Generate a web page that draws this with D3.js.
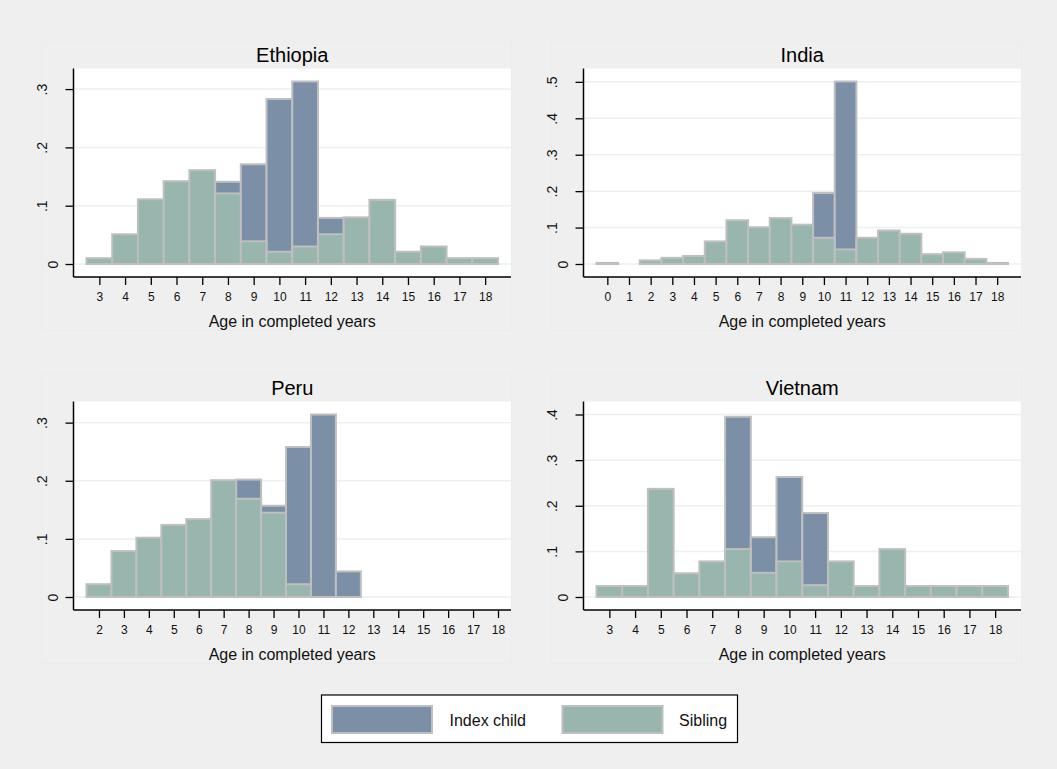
<!DOCTYPE html>
<html>
<head>
<meta charset="utf-8">
<script src="https://cdn.jsdelivr.net/npm/d3@7"></script>
<style>
  body { margin: 0; background: #efefef; }
  svg { display: block; }
</style>
</head>
<body>
<script>
// Share of children by age (density), index child vs sibling
const ethiopiaAges    = [3, 4, 5, 6, 7, 8, 9, 10, 11, 12, 13, 14, 15, 16, 17, 18];
const ethiopiaIndex   = [0, 0, 0, 0, 0, 0.141, 0.171, 0.283, 0.313, 0.079, 0, 0, 0, 0, 0, 0];
const ethiopiaSibling = [0.010, 0.051, 0.111, 0.142, 0.161, 0.121, 0.039, 0.021, 0.030, 0.051, 0.080, 0.110, 0.021, 0.030, 0.010, 0.010];

const indiaAges    = [0, 1, 2, 3, 4, 5, 6, 7, 8, 9, 10, 11, 12, 13, 14, 15, 16, 17, 18];
const indiaIndex   = [0, 0, 0, 0, 0, 0, 0, 0, 0, 0, 0.195, 0.501, 0, 0, 0, 0, 0, 0, 0];
const indiaSibling = [0.003, 0, 0.010, 0.017, 0.022, 0.062, 0.120, 0.101, 0.126, 0.108, 0.072, 0.040, 0.072, 0.092, 0.083, 0.027, 0.032, 0.014, 0.003];

const peruAges    = [2, 3, 4, 5, 6, 7, 8, 9, 10, 11, 12];
const peruIndex   = [0, 0, 0, 0, 0, 0, 0.202, 0.157, 0.258, 0.314, 0.044];
const peruSibling = [0.022, 0.079, 0.102, 0.124, 0.134, 0.201, 0.169, 0.145, 0.022, 0, 0];

const vietnamAges    = [3, 4, 5, 6, 7, 8, 9, 10, 11, 12, 13, 14, 15, 16, 17, 18];
const vietnamIndex   = [0, 0, 0, 0, 0, 0.395, 0.131, 0.263, 0.184, 0, 0, 0, 0, 0, 0, 0];
const vietnamSibling = [0.024, 0.024, 0.237, 0.052, 0.078, 0.105, 0.053, 0.078, 0.026, 0.078, 0.024, 0.105, 0.024, 0.024, 0.024, 0.024];

const ethiopiaXTicks = d3.range(3, 19);
const indiaXTicks    = d3.range(0, 19);
const peruXTicks     = d3.range(2, 19);
const vietnamXTicks  = d3.range(3, 19);

const ethiopiaYTicks = [0, 0.1, 0.2, 0.3];
const indiaYTicks    = [0, 0.1, 0.2, 0.3, 0.4, 0.5];
const peruYTicks     = [0, 0.1, 0.2, 0.3];
const vietnamYTicks  = [0, 0.1, 0.2, 0.3, 0.4];

const seriesNames = ["Index child", "Sibling"];
const xTitle = "Age in completed years";

const panels = [
    {title: "Ethiopia", ages: ethiopiaAges, index: ethiopiaIndex, sibling: ethiopiaSibling, xTicks: ethiopiaXTicks, yTicks: ethiopiaYTicks, col: 0, row: 0},
    {title: "India", ages: indiaAges, index: indiaIndex, sibling: indiaSibling, xTicks: indiaXTicks, yTicks: indiaYTicks, col: 1, row: 0},
    {title: "Peru", ages: peruAges, index: peruIndex, sibling: peruSibling, xTicks: peruXTicks, yTicks: peruYTicks, col: 0, row: 1},
    {title: "Vietnam", ages: vietnamAges, index: vietnamIndex, sibling: vietnamSibling, xTicks: vietnamXTicks, yTicks: vietnamYTicks, col: 1, row: 1}
];

const colors = {index: "#7b8fa7", sibling: "#98b5ae", outline: "#bfbfbf", grid: "#e9f1f3", frame: "#e8edee"};
const font = '"Liberation Sans", Arial, Helvetica, sans-serif';

// layout of the 2x2 grid
const sub = {x0: 41, y0: 41, dx: 510, dy: 333, w: 470, h: 289};
const plot = {left: 32.5, top: 27.5, width: 437.5, height: 208.5};
const pad = 13;

const svg = d3.select("body").append("svg")
    .attr("width", 1057)
    .attr("height", 769);

svg.append("rect")
    .attr("width", 1057)
    .attr("height", 769)
    .attr("fill", "#efefef");

const yFormat = d => d === 0 ? "0" : d3.format(".1f")(d).replace(/^0/, "");

panels.forEach(function (p) {
    const gx = sub.x0 + p.col * sub.dx;
    const gy = sub.y0 + p.row * sub.dy;
    const g = svg.append("g").attr("transform", "translate(" + gx + "," + gy + ")");

    // faint subgraph frame
    g.append("rect")
        .attr("x", 0.5).attr("y", 0.5)
        .attr("width", sub.w).attr("height", sub.h)
        .attr("fill", "none")
        .attr("stroke", colors.frame);

    const px = plot.left, py = plot.top;

    g.append("rect")
        .attr("x", px).attr("y", py)
        .attr("width", plot.width).attr("height", plot.height)
        .attr("fill", "#fff");

    const xMin = Math.min(d3.min(p.ages) - 0.5, d3.min(p.xTicks));
    const xMax = Math.max(d3.max(p.ages) + 0.5, d3.max(p.xTicks));
    const x = d3.scaleLinear().domain([xMin, xMax]).range([px + pad, px + plot.width - pad]);

    const yMax = Math.max(d3.max(p.index), d3.max(p.sibling), d3.max(p.yTicks));
    const y = d3.scaleLinear().domain([0, yMax]).range([py + plot.height - pad, py + pad]);

    // grid lines
    g.selectAll("line.grid")
        .data(p.yTicks)
        .enter().append("line")
        .attr("class", "grid")
        .attr("x1", px).attr("x2", px + plot.width)
        .attr("y1", d => y(d)).attr("y2", d => y(d))
        .attr("stroke", colors.grid)
        .attr("stroke-width", 1.5);

    // index child first, sibling drawn over it
    [["index", p.index], ["sibling", p.sibling]].forEach(function (s) {
        const rows = p.ages.map((a, i) => ({age: a, v: s[1][i]})).filter(d => d.v > 0);
        g.selectAll("rect.bar-" + s[0])
            .data(rows)
            .enter().append("rect")
            .attr("class", "bar-" + s[0])
            .attr("x", d => x(d.age - 0.5))
            .attr("width", d => x(d.age + 0.5) - x(d.age - 0.5))
            .attr("y", d => y(d.v))
            .attr("height", d => y(0) - y(d.v))
            .attr("fill", colors[s[0]])
            .attr("stroke", colors.outline)
            .attr("stroke-width", 2);
    });

    // axes
    const xAxis = g.append("g")
        .attr("transform", "translate(0," + (py + plot.height) + ")")
        .call(d3.axisBottom(x).tickValues(p.xTicks).tickSize(8).tickPadding(7));
    xAxis.select(".domain").remove();
    xAxis.selectAll("line").attr("stroke", "#000").attr("stroke-width", 1.3);
    xAxis.selectAll("text").style("font-family", font).style("font-size", "12px").attr("fill", "#111");

    const yAxis = g.append("g")
        .attr("transform", "translate(" + px + ",0)")
        .call(d3.axisLeft(y).tickValues(p.yTicks).tickSize(8).tickFormat(yFormat));
    yAxis.select(".domain").remove();
    yAxis.selectAll("line").attr("stroke", "#000").attr("stroke-width", 1.3);
    // Stata puts "0" nearer the axis than the decimal labels
    yAxis.selectAll("text")
        .attr("x", null).attr("dy", null)
        .attr("text-anchor", "middle")
        .attr("transform", d => "translate(" + (d === 0 ? -16 : -27) + ",0) rotate(-90)")
        .style("font-family", font).style("font-size", "14px").attr("fill", "#111");

    g.append("line")
        .attr("x1", px).attr("x2", px)
        .attr("y1", py).attr("y2", py + plot.height)
        .attr("stroke", "#000").attr("stroke-width", 1.5);
    g.append("line")
        .attr("x1", px).attr("x2", px + plot.width)
        .attr("y1", py + plot.height).attr("y2", py + plot.height)
        .attr("stroke", "#000").attr("stroke-width", 1.5);

    g.append("text")
        .attr("x", px + plot.width / 2)
        .attr("y", 20.7)
        .attr("text-anchor", "middle")
        .style("font-family", font).style("font-size", "20px")
        .attr("fill", "#000")
        .text(p.title);

    g.append("text")
        .attr("x", px + plot.width / 2)
        .attr("y", 285.7)
        .attr("text-anchor", "middle")
        .style("font-family", font).style("font-size", "16px")
        .attr("fill", "#111")
        .text(xTitle);
});

// legend
const legend = svg.append("g").attr("transform", "translate(321.5,695)");
legend.append("rect")
    .attr("width", 416).attr("height", 47.5)
    .attr("fill", "#fff").attr("stroke", "#000").attr("stroke-width", 1.2);

const legendItems = [
    {name: seriesNames[0], color: colors.index, sx: 10.5, tx: 128},
    {name: seriesNames[1], color: colors.sibling, sx: 241, tx: 357.5}
];
legend.selectAll("rect.swatch")
    .data(legendItems)
    .enter().append("rect")
    .attr("class", "swatch")
    .attr("x", d => d.sx).attr("y", 11)
    .attr("width", 100).attr("height", 27)
    .attr("fill", d => d.color)
    .attr("stroke", colors.outline).attr("stroke-width", 2);
legend.selectAll("text.label")
    .data(legendItems)
    .enter().append("text")
    .attr("class", "label")
    .attr("x", d => d.tx).attr("y", 31)
    .style("font-family", font).style("font-size", "16px")
    .attr("fill", "#111")
    .text(d => d.name);
</script>
</body>
</html>
